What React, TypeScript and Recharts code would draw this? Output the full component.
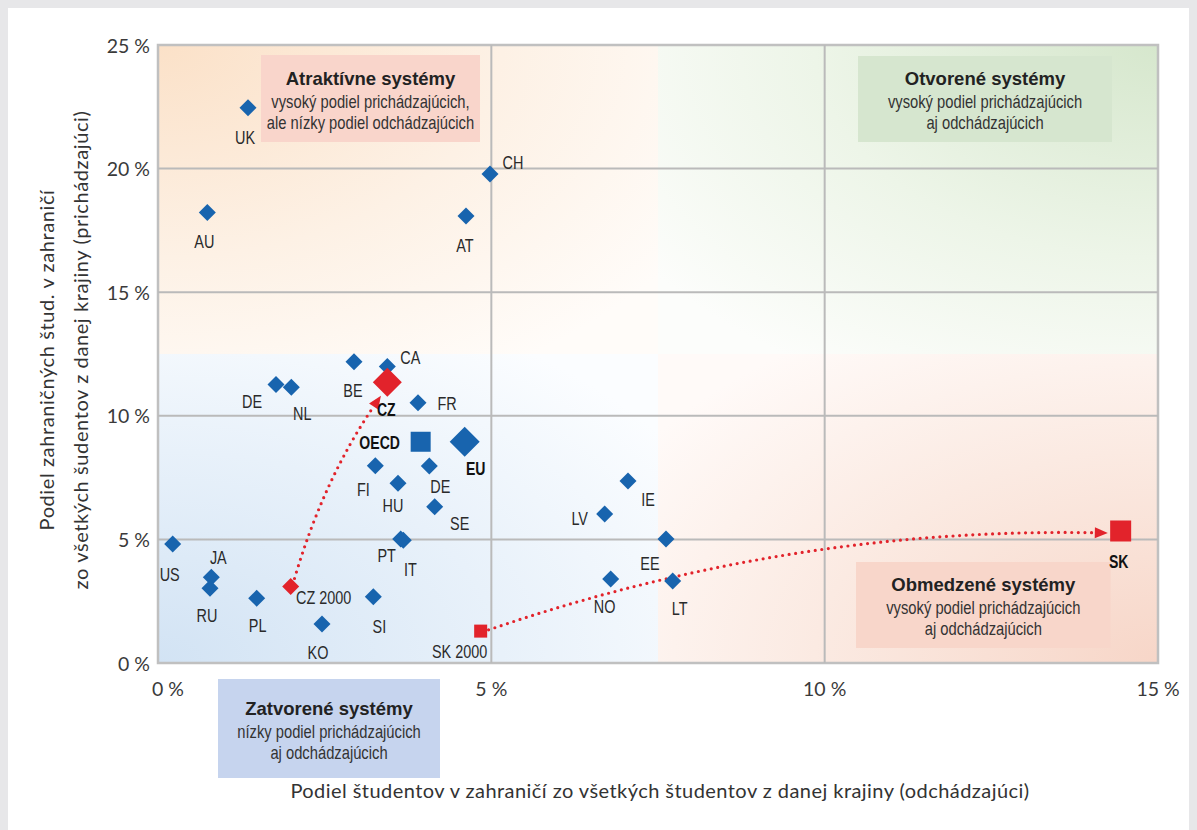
import { ScatterChart, Scatter, XAxis, YAxis, ReferenceArea, ReferenceLine } from 'recharts'

if (typeof document !== 'undefined') document.body.style.background = '#e7e7e9'

// countries: share of students abroad (outgoing, %) vs share of foreign students (incoming, %)
const countries = ['UK', 'AU', 'CH', 'AT', 'BE', 'CA', 'DE', 'NL', 'FR', 'FI', 'DE', 'HU', 'SE', 'IE', 'LV', 'PT', 'IT', 'EE', 'US', 'JA', 'RU', 'NO', 'LT', 'PL', 'SI', 'KO']
const outgoing = [1.35, 0.74, 4.98, 4.62, 2.94, 3.44, 1.77, 2.0, 3.9, 3.26, 4.07, 3.6, 4.15, 7.05, 6.7, 3.64, 3.68, 7.62, 0.22, 0.8, 0.78, 6.79, 7.72, 1.48, 3.23, 2.46]
const incoming = [22.46, 18.22, 19.78, 18.08, 12.19, 11.99, 11.27, 11.15, 10.53, 7.98, 7.97, 7.27, 6.32, 7.36, 6.03, 5.02, 4.97, 5.02, 4.81, 3.47, 3.02, 3.4, 3.32, 2.62, 2.68, 1.58]

const groupNames = ['OECD', 'EU']
const groupOutgoing = [3.94, 4.6]
const groupIncoming = [8.95, 8.95]

const trendNames = ['CZ 2000', 'CZ', 'SK 2000', 'SK']
const trendOutgoing = [1.99, 3.44, 4.84, 14.44]
const trendIncoming = [3.09, 11.36, 1.29, 5.34]

const xTicks = [0, 5, 10, 15]
const yTicks = [0, 5, 10, 15, 20, 25]

// label offsets (px) from each marker, same order as countries
const countryLabelPos = [
  [-3, 30], [-3, 29], [23, -11], [-1, 30], [-1, 29], [23, -9], [-24, 17], [11, 26], [29, 1], [-12, 24],
  [11, 21], [-5, 23], [25, 17], [20, 19], [-25, 5], [-14, 17], [7, 30], [-16, 25], [-3, 31], [7, -19],
  [-3, 27], [-6, 28], [7, 28], [1, 28], [6, 30], [-4, 29],
]
const markerStyle: Record<string, { shape: 'diamond' | 'square'; size: number; color: string; dx: number; dy: number; bold?: boolean }> = {
  'OECD': { shape: 'square', size: 20, color: '#1864ae', dx: -41, dy: 1, bold: true },
  'EU': { shape: 'diamond', size: 15, color: '#1864ae', dx: 11, dy: 27, bold: true },
  'CZ 2000': { shape: 'diamond', size: 8.5, color: '#e2232b', dx: 33, dy: 11 },
  'CZ': { shape: 'diamond', size: 14.5, color: '#e2232b', dx: -1, dy: 28, bold: true },
  'SK 2000': { shape: 'square', size: 13, color: '#e2232b', dx: -21, dy: 21 },
  'SK': { shape: 'square', size: 21, color: '#e2232b', dx: -2, dy: 31, bold: true },
}

const BLUE = '#1864ae'
const RED = '#e2232b'
const GRID = '#bababa'
const NARROW = '"Liberation Sans", Arial, sans-serif'
const AXIS_FONT = 'Lato, "Open Sans", sans-serif'

const countryData = countries.map((name, i) => ({ name, x: outgoing[i], y: incoming[i], dx: countryLabelPos[i][0], dy: countryLabelPos[i][1] }))
const groupData = groupNames.map((name, i) => ({ name, x: groupOutgoing[i], y: groupIncoming[i] }))
const trendData = trendNames.map((name, i) => ({ name, x: trendOutgoing[i], y: trendIncoming[i] }))

// Arial squeezed horizontally stands in for a condensed face
function NarrowText({ x, y, size, weight = 400, fill, squeeze, children }: any) {
  return (
    <text transform={`translate(${x} ${y}) scale(${squeeze} 1)`} x={0} y={0} textAnchor="middle" dominantBaseline="central"
      fontFamily={NARROW} fontSize={size} fontWeight={weight} fill={fill}>
      {children}
    </text>
  )
}

function Marker({ cx, cy, shape, size, color }: any) {
  if (shape === 'square') return <rect x={cx - size / 2} y={cy - size / 2} width={size} height={size} fill={color} />
  return <polygon points={`${cx},${cy - size} ${cx + size},${cy} ${cx},${cy + size} ${cx - size},${cy}`} fill={color} />
}

function PointLabel({ x, y, text, bold }: any) {
  return bold
    ? <NarrowText x={x} y={y} size={19} weight={700} fill="#111" squeeze={0.74}>{text}</NarrowText>
    : <NarrowText x={x} y={y} size={19} fill="#2a2a2a" squeeze={0.76}>{text}</NarrowText>
}

function CountryShape(p: any) {
  const { cx, cy, payload } = p
  return (
    <g>
      <Marker cx={cx} cy={cy} shape="diamond" size={8.5} color={BLUE} />
      <PointLabel x={cx + payload.dx} y={cy + payload.dy} text={payload.name} />
    </g>
  )
}

function SpecialShape(p: any) {
  const { cx, cy, payload } = p
  const s = markerStyle[payload.name]
  return (
    <g>
      <Marker cx={cx} cy={cy} shape={s.shape} size={s.size} color={s.color} />
      <PointLabel x={cx + s.dx} y={cy + s.dy} text={payload.name} bold={s.bold} />
    </g>
  )
}

// dotted curved arrow between two points of the trend series
function CurvedArrow({ x1, y1, x2, y2, bend, startGap, endGap }: any) {
  const L = Math.hypot(x2 - x1, y2 - y1)
  const ux = (x2 - x1) / L, uy = (y2 - y1) / L
  const sx = x1 + ux * startGap, sy = y1 + uy * startGap
  const tx = x2 - ux * endGap, ty = y2 - uy * endGap
  const nx = uy, ny = -ux
  const cx = (sx + tx) / 2 + nx * bend * L
  const cy = (sy + ty) / 2 + ny * bend * L
  const tl = Math.hypot(tx - cx, ty - cy)
  const hx = (tx - cx) / tl, hy = (ty - cy) / tl
  const head = 13, half = 5.5
  const bx = tx - hx * head, by = ty - hy * head
  return (
    <g>
      <path d={`M${sx},${sy} Q${cx},${cy} ${bx},${by}`} fill="none" stroke={RED} strokeWidth={3.2}
        strokeDasharray="0 6.6" strokeLinecap="round" />
      <polygon points={`${tx},${ty} ${bx - hy * half},${by + hx * half} ${bx + hy * half},${by - hx * half}`} fill={RED} />
    </g>
  )
}

function QuadNote({ viewBox, title, lines }: any) {
  const { x, y, width, height } = viewBox
  const cx = x + width / 2
  const cy = y + height / 2 + 2
  return (
    <g>
      <text x={cx} y={cy - 22} textAnchor="middle" dominantBaseline="central" fontFamily={NARROW} fontSize={18.5} fontWeight={700} fill="#222">{title}</text>
      {lines.map((l: string, i: number) => (
        <NarrowText key={i} x={cx} y={cy + 1 + i * 21} size={18} fill="#333" squeeze={0.82}>{l}</NarrowText>
      ))}
    </g>
  )
}

function XTick({ x, y, payload, index }: any) {
  return (
    <text x={x + (index === 0 ? 10 : 0)} y={y + 25} textAnchor="middle" dominantBaseline="central"
      fontFamily={AXIS_FONT} fontSize={19.5} fill="#3a3a3a">{`${payload.value} %`}</text>
  )
}

function YTick({ x, y, payload }: any) {
  return (
    <text x={x - 8} y={y} textAnchor="end" dominantBaseline="central"
      fontFamily={AXIS_FONT} fontSize={19.5} fill="#3a3a3a">{`${payload.value} %`}</text>
  )
}

function YTitle({ viewBox }: any) {
  const cy = viewBox.y + viewBox.height / 2
  return (
    <g fontFamily={AXIS_FONT} fontSize={20} letterSpacing={0.6} fill="#333" textAnchor="middle">
      <text x={38} y={cy + 6} transform={`rotate(-90 38 ${cy + 6})`} dominantBaseline="central">Podiel zahraničných štud. v zahraničí</text>
      <text x={72} y={cy - 4} transform={`rotate(-90 72 ${cy - 4})`} dominantBaseline="central">zo všetkých šudentov z danej krajiny (prichádzajúci)</text>
    </g>
  )
}

function XTitle({ viewBox }: any) {
  const cx = viewBox.x + viewBox.width / 2 + 2
  return (
    <text x={cx} y={viewBox.y + 127} textAnchor="middle" dominantBaseline="central"
      fontFamily={AXIS_FONT} fontSize={20} letterSpacing={0.45} fill="#333">
      Podiel študentov v zahraničí zo všetkých študentov z danej krajiny (odchádzajúci)
    </text>
  )
}

export default function App() {
  return (
    <div style={{ width: 1189, height: 822, background: '#fff' }}>
      <ScatterChart width={1189} height={822} margin={{ top: 37, right: 39, bottom: 0, left: 0 }}>
        <defs>
          <radialGradient id="gTL" cx="0" cy="0" r="1.25">
            <stop offset="0" stopColor="#fbe1c8" />
            <stop offset="0.55" stopColor="#fdf1e5" />
            <stop offset="1" stopColor="#fffcf9" />
          </radialGradient>
          <radialGradient id="gTR" cx="1" cy="0" r="1.25">
            <stop offset="0" stopColor="#d6e7cd" />
            <stop offset="0.55" stopColor="#edf5e8" />
            <stop offset="1" stopColor="#fcfdfb" />
          </radialGradient>
          <radialGradient id="gBL" cx="0" cy="1" r="1.25">
            <stop offset="0" stopColor="#d2e3f4" />
            <stop offset="0.55" stopColor="#e8f1fa" />
            <stop offset="1" stopColor="#fbfdff" />
          </radialGradient>
          <radialGradient id="gBR" cx="1" cy="1" r="1.25">
            <stop offset="0" stopColor="#f7d6c8" />
            <stop offset="0.55" stopColor="#fbeae2" />
            <stop offset="1" stopColor="#fffaf8" />
          </radialGradient>
        </defs>
        <XAxis type="number" dataKey="x" domain={[0, 15]} ticks={xTicks} height={167} axisLine={false} tickLine={false}
          tickSize={0} tickMargin={0} tick={<XTick />} label={<XTitle />} />
        <YAxis type="number" dataKey="y" domain={[0, 25]} ticks={yTicks} width={150} axisLine={false} tickLine={false}
          tickSize={0} tickMargin={0} tick={<YTick />} label={<YTitle />} />
        <ReferenceArea x1={0} x2={7.5} y1={12.5} y2={25} fill="url(#gTL)" fillOpacity={1} />
        <ReferenceArea x1={7.5} x2={15} y1={12.5} y2={25} fill="url(#gTR)" fillOpacity={1} />
        <ReferenceArea x1={0} x2={7.5} y1={0} y2={12.5} fill="url(#gBL)" fillOpacity={1} />
        <ReferenceArea x1={7.5} x2={15} y1={0} y2={12.5} fill="url(#gBR)" fillOpacity={1} />
        {xTicks.slice(1, -1).map(v => <ReferenceLine key={`gx${v}`} x={v} stroke={GRID} strokeWidth={2} />)}
        {yTicks.slice(1, -1).map(v => <ReferenceLine key={`gy${v}`} y={v} stroke={GRID} strokeWidth={2} />)}
        <ReferenceArea x1={0} x2={15} y1={0} y2={25} fill="none" stroke="#c0c0c0" strokeWidth={2.5} />
        <ReferenceArea x1={1.545} x2={4.83} y1={21.08} y2={24.6} fill="#f9d5cb" fillOpacity={1}
          label={<QuadNote title="Atraktívne systémy" lines={['vysoký podiel prichádzajúcich,', 'ale nízky podiel odchádzajúcich']} />} />
        <ReferenceArea x1={10.5} x2={14.31} y1={21.08} y2={24.56} fill="#d6e6cf" fillOpacity={1}
          label={<QuadNote title="Otvorené systémy" lines={['vysoký podiel prichádzajúcich', 'aj odchádzajúcich']} />} />
        <ReferenceArea x1={10.47} x2={14.29} y1={0.61} y2={4.09} fill="#f8d6ca" fillOpacity={1}
          label={<QuadNote title="Obmedzené systémy" lines={['vysoký podiel prichádzajúcich', 'aj odchádzajúcich']} />} />
        <ReferenceArea x1={0.9} x2={4.23} y1={-4.65} y2={-0.65} fill="#c6d4ee" fillOpacity={1} ifOverflow="visible"
          label={<QuadNote title="Zatvorené systémy" lines={['nízky podiel prichádzajúcich', 'aj odchádzajúcich']} />} />
        <ReferenceLine ifOverflow="visible"
          segment={[{ x: trendOutgoing[0], y: trendIncoming[0] }, { x: trendOutgoing[1], y: trendIncoming[1] }]}
          shape={(p: any) => <CurvedArrow {...p} bend={0.07} startGap={9} endGap={15} />} />
        <ReferenceLine ifOverflow="visible"
          segment={[{ x: trendOutgoing[2], y: trendIncoming[2] }, { x: trendOutgoing[3], y: trendIncoming[3] }]}
          shape={(p: any) => <CurvedArrow {...p} bend={0.085} startGap={8} endGap={13} />} />
        <Scatter data={countryData} shape={<CountryShape />} isAnimationActive={false} />
        <Scatter data={groupData} shape={<SpecialShape />} isAnimationActive={false} />
        <Scatter data={trendData} shape={<SpecialShape />} isAnimationActive={false} />
      </ScatterChart>
    </div>
  )
}
